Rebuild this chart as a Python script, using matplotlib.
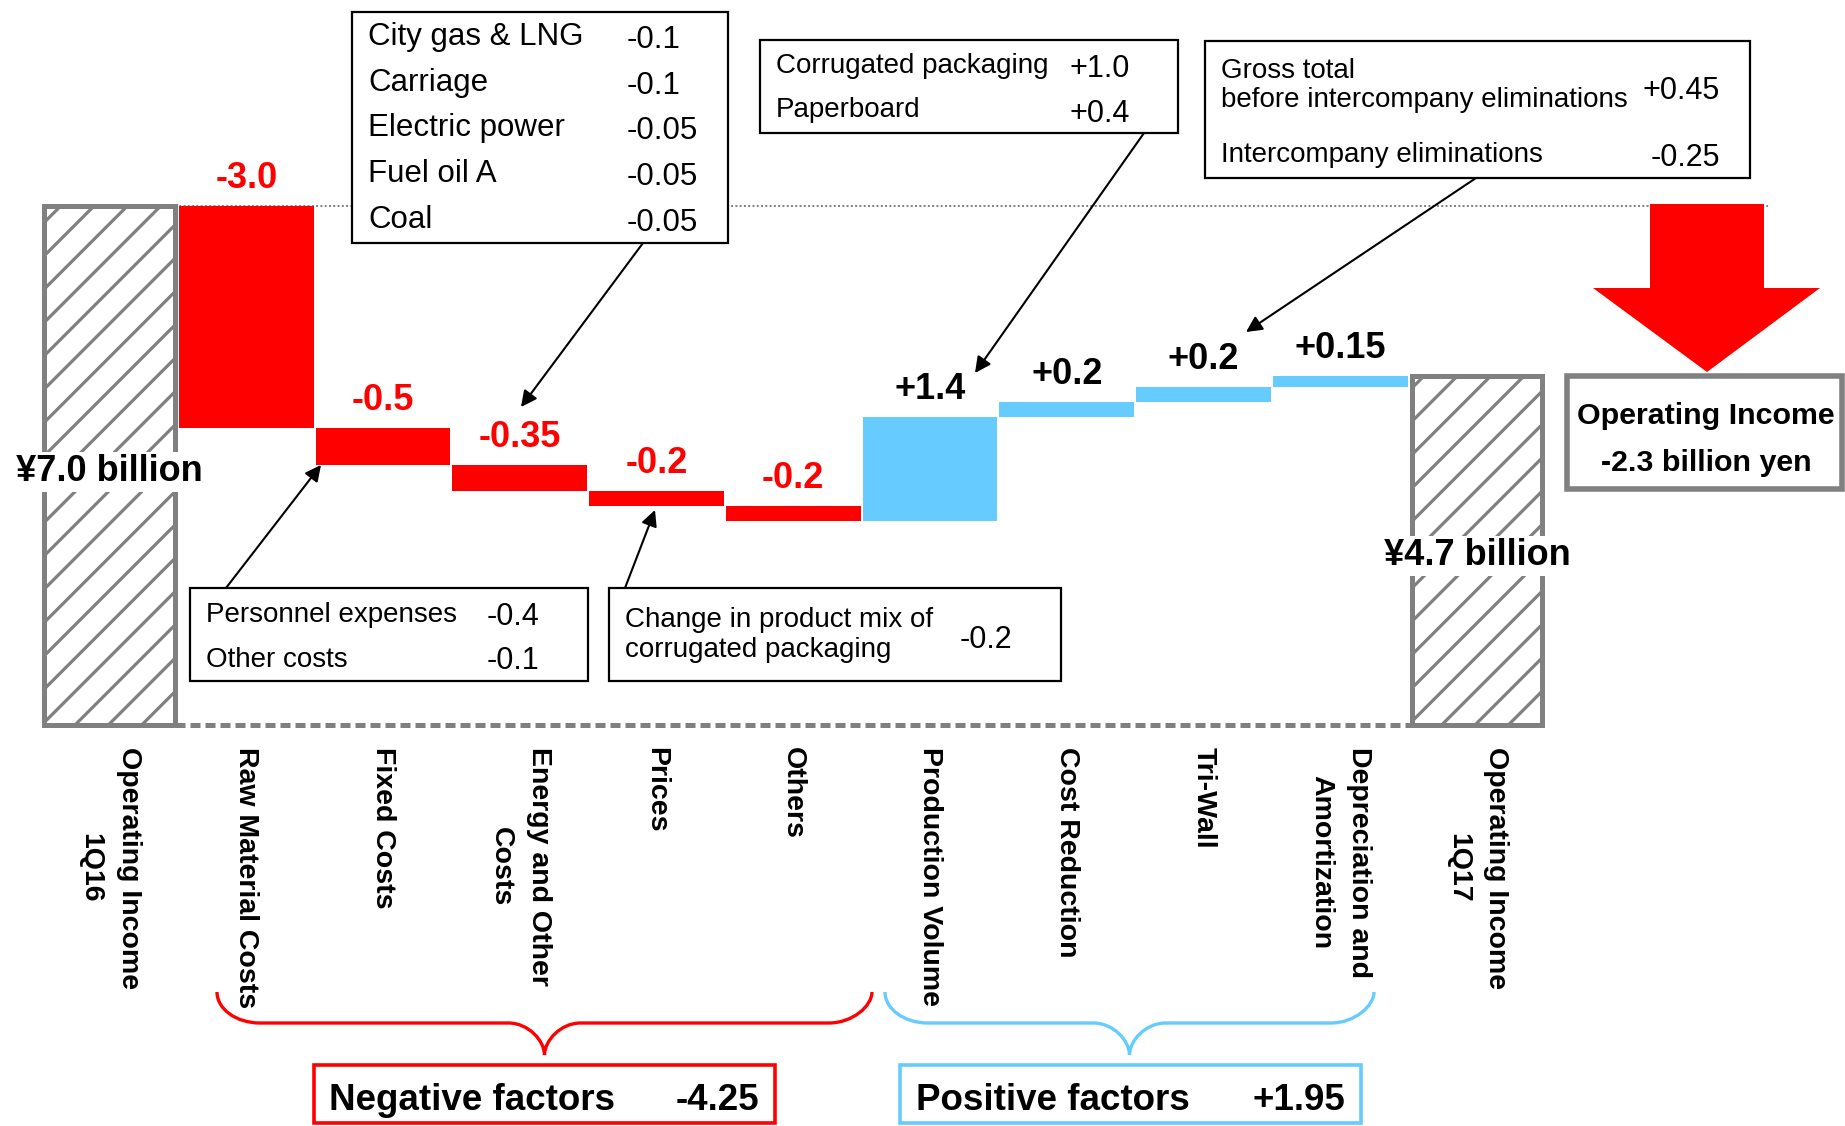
import numpy as np
import matplotlib
matplotlib.use("Agg")
import matplotlib.pyplot as plt
from matplotlib import font_manager
from matplotlib.patches import Rectangle, Polygon, PathPatch
from matplotlib.path import Path

# ---- data ----
categories = ["Operating Income\n1Q16", "Raw Material Costs", "Fixed Costs",
              "Energy and Other\nCosts", "Prices", "Others", "Production Volume",
              "Cost Reduction", "Tri-Wall", "Depreciation and\nAmortization",
              "Operating Income\n1Q17"]
start_value = 7.0
end_value = 4.7
changes = [-3.0, -0.5, -0.35, -0.2, -0.2, 1.4, 0.2, 0.2, 0.15]

energy_items = ["City gas & LNG", "Carriage", "Electric power", "Fuel oil A", "Coal"]
energy_vals = ["-0.1", "-0.1", "-0.05", "-0.05", "-0.05"]
fixed_items = ["Personnel expenses", "Other costs"]
fixed_vals = ["-0.4", "-0.1"]
price_item = "Change in product mix of\ncorrugated packaging"
price_val = "-0.2"
volume_items = ["Corrugated packaging", "Paperboard"]
volume_vals = ["+1.0", "+0.4"]
triwall_items = ["Gross total\nbefore intercompany eliminations", "Intercompany eliminations"]
triwall_vals = ["+0.45", "-0.25"]

RED = "#FF0000"
BLUE = "#66CCFF"
GRAY = "#808080"

plt.rcParams["font.family"] = "Liberation Sans"
plt.rcParams["hatch.linewidth"] = 2.3

# narrow face if present, otherwise regular face scaled down
_names = {f.name for f in font_manager.fontManager.ttflist}
if "Liberation Sans Narrow" in _names:
    NARROW, NK, NKB = "Liberation Sans Narrow", 1.0, 1.0
else:
    NARROW, NK, NKB = "Liberation Sans", 0.87, 0.82
VAL_SIZE = 22

# pixel -> data helpers for the annotation layout
X0, XS = 109.5, 136.75
Y0, YS = 725.0, 74.2


def X(px):
    return (px - X0) / XS


def Y(py):
    return (Y0 - py) / YS


def fmt(v):
    s = f"{v:+.2f}".rstrip("0")
    return s + "0" if s.endswith(".") else s


fig = plt.figure(figsize=(18.45, 11.26), dpi=100)
ax = fig.add_axes([0, 0, 1, 1])
ax.set_xlim(X(0), X(1845))
ax.set_ylim(Y(1126), Y(0))
ax.axis("off")

idx = np.arange(len(categories))
levels = np.concatenate([[start_value], start_value + np.cumsum(changes)])
ch = np.array(changes)
bottoms = np.minimum(levels[:-1], levels[1:])
colors = [RED if c < 0 else BLUE for c in ch]

# floating bars
ax.bar(idx[1:-1], np.abs(ch), bottom=bottoms, width=0.985, color=colors,
       linewidth=0, zorder=2)
# totals
hw = 0.955
ax.bar([idx[0], idx[-1]], [start_value, end_value], width=hw, facecolor="white",
       edgecolor=GRAY, hatch="/", linewidth=3.6, zorder=2)

# baseline and reference line
ax.plot([idx[0] + hw / 2, idx[-1] - hw / 2], [0, 0], color=GRAY, lw=3.6,
        linestyle=(0, (2, 1)), zorder=1)
ax.hlines(start_value, idx[0] + hw / 2, X(1768), colors=GRAY, lw=1.4,
          linestyles=(0, (1, 1.2)), zorder=1)

# totals labels
ax.text(idx[0], Y(472), f"¥{start_value:.1f} billion", ha="center", va="center",
        fontsize=26, fontweight="bold", zorder=4,
        bbox=dict(fc="white", ec="none", pad=2))
ax.text(idx[-1], Y(556), f"¥{end_value:.1f} billion", ha="center", va="center",
        fontsize=26, fontweight="bold", zorder=4,
        bbox=dict(fc="white", ec="none", pad=2))

# change labels
for i, c in enumerate(ch):
    top = max(levels[i], levels[i + 1])
    ax.text(idx[i + 1], top + 0.37, fmt(c), ha="center", va="center",
            fontsize=26, fontweight="bold", color=RED if c < 0 else "black")

# category labels
for i, lab in enumerate(categories):
    ax.text(idx[i], Y(747), lab, rotation=270, ha="center", va="top",
            multialignment="center", fontsize=20.5, fontweight="bold",
            linespacing=1.6)


def box(x0, y0, x1, y1, ec="black", lw=1.6):
    ax.add_patch(Rectangle((X(x0), Y(y1)), X(x1) - X(x0), Y(y0) - Y(y1),
                           fc="white", ec=ec, lw=lw, zorder=3))


def arrow(xa, ya, xb, yb):
    ax.annotate("", xy=(X(xb), Y(yb)), xytext=(X(xa), Y(ya)), zorder=5,
                arrowprops=dict(arrowstyle="-|>", color="black", lw=1.5,
                                mutation_scale=24, shrinkA=0, shrinkB=0))


def btext(px, py, s, size, family=None, **kw):
    ax.text(X(px), Y(py + 3), s, va="center", fontsize=size, zorder=4,
            family=family or "Liberation Sans", **kw)


# energy breakdown
box(352, 12, 728, 243)
for k, (a, b) in enumerate(zip(energy_items, energy_vals)):
    btext(368, 34 + 45.7 * k, a, 22.5)
    btext(627, 37 + 45.7 * k, b, 22.5)
arrow(643, 243, 521, 407)

# fixed costs breakdown
box(190, 588, 588, 681)
for k, (a, b) in enumerate(zip(fixed_items, fixed_vals)):
    btext(206, 612 + 45 * k, a, 23 * NK, NARROW)
    btext(487, 614 + 44 * k, b, VAL_SIZE)
arrow(226, 588, 321, 465)

# prices breakdown
box(609, 588, 1061, 681)
for k, line in enumerate(price_item.split("\n")):
    btext(625, 617 + 30 * k, line, 23 * NK, NARROW)
btext(960, 637, price_val, VAL_SIZE)
arrow(625, 588, 655, 510)

# production volume breakdown
box(760, 40, 1178, 133)
for k, (a, b) in enumerate(zip(volume_items, volume_vals)):
    btext(776, 63 + 44 * k, a, 23 * NK, NARROW)
    btext(1069, 66 + 45 * k, b, VAL_SIZE)
arrow(1144, 133, 975, 373)

# tri-wall breakdown
box(1205, 41, 1750, 178)
for k, line in enumerate(triwall_items[0].split("\n")):
    btext(1221, 68 + 29 * k, line, 23 * NK, NARROW)
btext(1720, 88, triwall_vals[0], VAL_SIZE, ha="right")
btext(1221, 152, triwall_items[1], 23 * NK, NARROW)
btext(1720, 155, triwall_vals[1], VAL_SIZE, ha="right")
arrow(1476, 178, 1246, 332)

# big red arrow and result box
arrow_px = [(1650, 204), (1764, 204), (1764, 288), (1820, 288), (1707, 372),
            (1593, 288), (1650, 288)]
ax.add_patch(Polygon([(X(a), Y(b)) for a, b in arrow_px], closed=True,
                     fc=RED, ec="none", zorder=3))
box(1567, 376, 1842, 489, ec=GRAY, lw=4)
diff = end_value - start_value
btext(1706, 413, "Operating Income", 26.7 * NKB, NARROW, ha="center",
      fontweight="bold")
btext(1706, 460, f"{diff:.1f} billion yen", 26.7 * NKB, NARROW, ha="center",
      fontweight="bold")


# braces
def brace(x0, x1, color, top=992, mid=1023, tip=1055, r=43, r2=36):
    xc = (x0 + x1) / 2
    k = 0.552
    pts = [
        (x0, top), (x0, top + k * (mid - top)), (x0 + r - k * r, mid), (x0 + r, mid),
        (xc - r2, mid),
        (xc - r2 + k * r2, mid), (xc, mid + k * (tip - mid)), (xc, tip),
        (xc, mid + k * (tip - mid)), (xc + r2 - k * r2, mid), (xc + r2, mid),
        (x1 - r, mid),
        (x1 - r + k * r, mid), (x1, mid + k * (top - mid)), (x1, top),
    ]
    codes = [Path.MOVETO, Path.CURVE4, Path.CURVE4, Path.CURVE4, Path.LINETO,
             Path.CURVE4, Path.CURVE4, Path.CURVE4,
             Path.CURVE4, Path.CURVE4, Path.CURVE4, Path.LINETO,
             Path.CURVE4, Path.CURVE4, Path.CURVE4]
    path = Path([(X(a), Y(b)) for a, b in pts], codes)
    ax.add_patch(PathPatch(path, fc="none", ec=color, lw=2.4, zorder=3))


brace(217, 872, RED)
brace(885, 1374, BLUE)

neg_total = ch[ch < 0].sum()
pos_total = ch[ch > 0].sum()
box(314, 1065, 775, 1123, ec=RED, lw=2.6)
btext(329, 1097, "Negative factors", 26.5, fontweight="bold")
btext(759, 1097, fmt(neg_total), 26.5, fontweight="bold", ha="right")
box(900, 1065, 1361, 1123, ec=BLUE, lw=2.6)
btext(916, 1097, "Positive factors", 26.5, fontweight="bold")
btext(1345, 1097, fmt(pos_total), 26.5, fontweight="bold", ha="right")

fig.savefig("out.png", dpi=100)
